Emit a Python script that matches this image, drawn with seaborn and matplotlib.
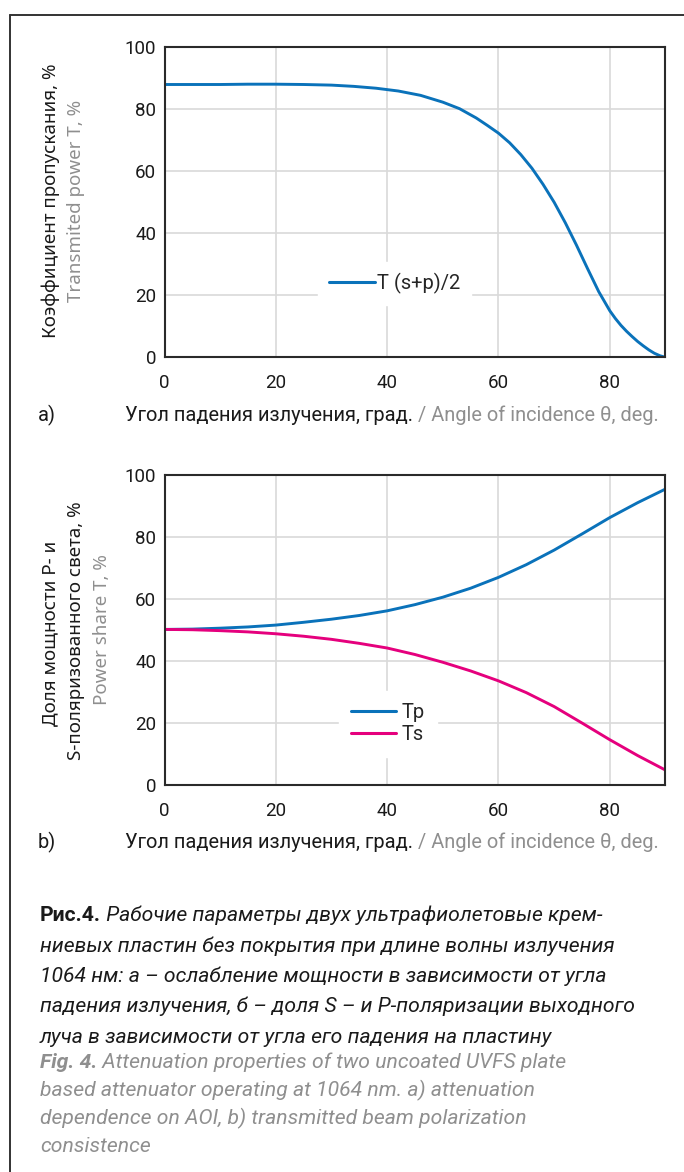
import matplotlib
matplotlib.use("Agg")
import matplotlib.pyplot as plt
from matplotlib.lines import Line2D
import seaborn as sns
import pandas as pd

# ---------------- data ----------------
angle_a = [0, 5, 10, 15, 20, 25, 30, 34, 38, 42, 46, 50, 53, 56, 58, 60, 62, 64,
           66, 68, 70, 72, 74, 76, 78, 80, 81, 82, 83, 84, 85, 86, 87, 88, 89, 90]
t_avg = [88.0, 88.0, 88.0, 88.1, 88.1, 88.0, 87.8, 87.4, 86.8, 85.9, 84.5, 82.3,
         80.2, 77.2, 74.8, 72.3, 69.2, 65.4, 61.0, 55.8, 50.0, 43.4, 36.2, 28.6,
         21.2, 15.0, 12.5, 10.3, 8.4, 6.7, 5.1, 3.7, 2.4, 1.3, 0.5, 0.0]

angle_b = [0, 5, 10, 15, 20, 25, 30, 35, 40, 45, 50, 55, 60, 65, 70, 75, 80, 85, 90]
tp = [50.3, 50.4, 50.7, 51.1, 51.7, 52.6, 53.6, 54.8, 56.3, 58.3, 60.7, 63.6,
      67.1, 71.2, 75.9, 81.1, 86.4, 91.2, 95.6]
ts = [50.3, 50.2, 49.9, 49.5, 48.9, 48.1, 47.1, 45.8, 44.3, 42.2, 39.7, 36.9,
      33.7, 29.9, 25.4, 20.1, 14.7, 9.6, 4.9]

x_ticks = [0, 20, 40, 60, 80]
y_ticks = [0, 20, 40, 60, 80, 100]

label_a = "T (s+p)/2"
label_tp = "Tp"
label_ts = "Ts"

BLUE = "#0a72ba"
PINK = "#e5007d"
GREY = "#8f8f8f"
BLACK = "#1a1a1a"

sns.set_theme(style="whitegrid")
plt.rcParams["font.family"] = ["Roboto", "DejaVu Sans"]
WIDE = ["Noto Sans", "DejaVu Sans"]

W, H = 684, 1172
fig = plt.figure(figsize=(W / 100, H / 100), dpi=100)
fig.patch.set_facecolor("white")

# outer frame
fig.add_artist(Line2D([10 / W, 10 / W], [0, 1 - 15 / H], color="#333333", lw=1.4,
                      transform=fig.transFigure))
fig.add_artist(Line2D([10 / W, 1], [1 - 15 / H, 1 - 15 / H], color="#333333", lw=1.4,
                      transform=fig.transFigure))


def make_axes(top, bottom):
    left, right = 164.5, 665.5
    return fig.add_axes([left / W, 1 - bottom / H, (right - left) / W, (bottom - top) / H])


def style_axes(ax):
    ax.set_xlim(0, 90)
    ax.set_ylim(0, 100)
    ax.set_xticks(x_ticks)
    ax.set_yticks(y_ticks)
    ax.grid(True, color="#d9d9d9", lw=1.2)
    for s in ax.spines.values():
        s.set_color("#2a2a2a")
        s.set_linewidth(1.5)
        s.set_visible(True)
    ax.tick_params(axis="both", length=0, labelsize=13.5, labelcolor=BLACK)
    ax.tick_params(axis="x", pad=12)
    ax.tick_params(axis="y", pad=6)
    ax.set_xlabel("")
    ax.set_ylabel("")


def style_legend(leg):
    fr = leg.get_frame()
    fr.set_facecolor("white")
    fr.set_edgecolor("white")
    fr.set_alpha(1)
    fr.set_boxstyle("square", pad=0)
    for line in leg.get_lines():
        line.set_linewidth(2.2)


# ---- chart a ----
ax1 = make_axes(47.3, 357.3)
df_a = pd.DataFrame({"angle": angle_a, "T": t_avg})
sns.lineplot(data=df_a, x="angle", y="T", ax=ax1, color=BLUE, lw=2.1, label=label_a)
style_axes(ax1)
leg = ax1.legend(loc="center", bbox_to_anchor=(0.4595, 0.238), frameon=True,
                 fontsize=14.5, handlelength=2.25, handletextpad=0.12,
                 borderpad=0.55, borderaxespad=0)
style_legend(leg)

# ---- chart b ----
ax2 = make_axes(475.4, 785.3)
df_b = pd.DataFrame({"angle": angle_b * 2, "T": tp + ts,
                     "series": [label_tp] * len(angle_b) + [label_ts] * len(angle_b)})
sns.lineplot(data=df_b, x="angle", y="T", hue="series", ax=ax2,
             palette={label_tp: BLUE, label_ts: PINK}, lw=2.1)
style_axes(ax2)
leg2 = ax2.legend(loc="center", bbox_to_anchor=(0.446, 0.198), frameon=True,
                  fontsize=14.5, handlelength=2.25, handletextpad=0.3,
                  borderpad=0.6, borderaxespad=0, labelspacing=0.15)
style_legend(leg2)

# ---- x labels ----
XL = 14.4
for ax, base, letter in [(ax1, 421, "a)"), (ax2, 848.5, "b)")]:
    t = fig.text(125 / W, 1 - base / H, "Угол падения излучения, град.", fontsize=XL,
                 color=BLACK, va="baseline")
    ax.annotate(" / Angle of incidence θ, deg.", xy=(1, 0), xycoords=t, va="bottom",
                ha="left", fontsize=XL, color=GREY, annotation_clip=False)
    fig.text(38 / W, 1 - base / H, letter, fontsize=XL, color=BLACK, va="baseline")

# ---- y labels ----
YL = 13.5
fig.text(51 / W, 1 - 201 / H, "Коэффициент пропускания, %", rotation=90, fontsize=YL,
         color=BLACK, ha="center", va="center", family=WIDE)
fig.text(76 / W, 1 - 201 / H, "Transmited power T, %", rotation=90, fontsize=YL,
         color=GREY, ha="center", va="center", family=WIDE)

fig.text(50 / W, 1 - 633 / H, "Доля мощности P- и", rotation=90, fontsize=YL,
         color=BLACK, ha="center", va="center", family=WIDE)
fig.text(76 / W, 1 - 631 / H, "S-поляризованного света, %", rotation=90, fontsize=YL,
         color=BLACK, ha="center", va="center", family=WIDE)
fig.text(102 / W, 1 - 630 / H, "Power share T, %", rotation=90, fontsize=YL,
         color=GREY, ha="center", va="center", family=WIDE)

# ---- caption ----
cap_x = 40 / W
CAP = 15.2
ru_lines = [
    "ниевых пластин без покрытия при длине волны излучения",
    "1064 нм: а – ослабление мощности в зависимости от угла",
    "падения излучения, б – доля S – и P-поляризации выходного",
    "луча в зависимости от угла его падения на пластину",
]
en_lines = [
    "based attenuator operating at 1064 nm. a) attenuation",
    "dependence on AOI, b) transmitted beam polarization",
    "consistence",
]
tb = fig.text(cap_x, 1 - 921 / H, "Рис.4.", fontsize=CAP, fontweight="bold",
              color=BLACK, va="baseline")
ax1.annotate(" Рабочие параметры двух ультрафиолетовые крем-", xy=(1, 0), xycoords=tb,
             va="bottom", ha="left", fontsize=CAP, style="italic", color=BLACK,
             annotation_clip=False)
for i, line in enumerate(ru_lines):
    fig.text(cap_x, 1 - (951.5 + 30.5 * i) / H, line, fontsize=CAP, style="italic",
             color=BLACK, va="baseline")
tf = fig.text(cap_x, 1 - 1068 / H, "Fig. 4.", fontsize=CAP, fontweight="bold",
              style="italic", color=GREY, va="baseline")
ax1.annotate(" Attenuation properties of two uncoated UVFS plate", xy=(1, 0), xycoords=tf,
             va="bottom", ha="left", fontsize=CAP, style="italic", color=GREY,
             annotation_clip=False)
for i, line in enumerate(en_lines):
    fig.text(cap_x, 1 - (1096 + 28 * i) / H, line, fontsize=CAP, style="italic",
             color=GREY, va="baseline")

fig.savefig("out.png", dpi=100, facecolor="white")
